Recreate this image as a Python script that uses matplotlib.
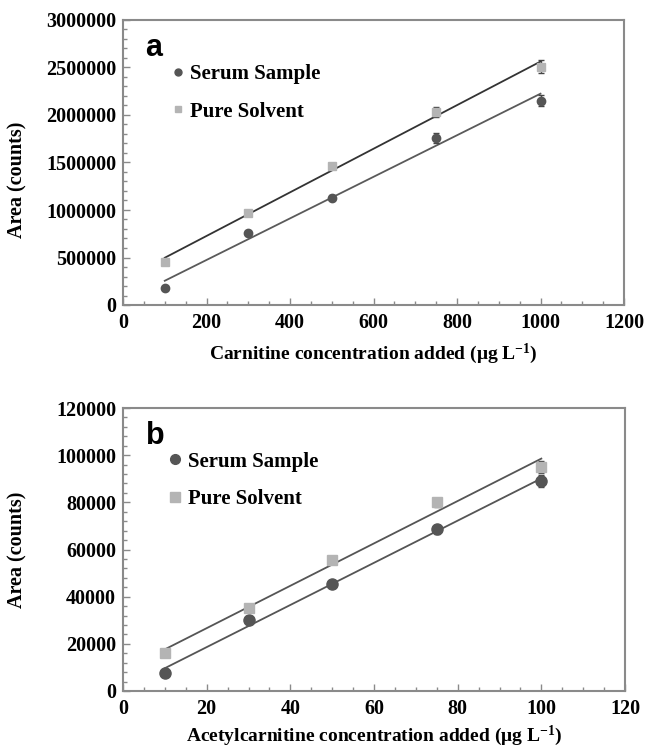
import numpy as np
import matplotlib
matplotlib.use("Agg")
import matplotlib.pyplot as plt
from matplotlib.ticker import MultipleLocator, FormatStrFormatter
from matplotlib.lines import Line2D

# ---- data ----
xa = [100, 300, 500, 750, 1000]
serum_a = [180000, 760000, 1130000, 1760000, 2150000]
serum_a_err = [15000, 20000, 25000, 50000, 60000]
solvent_a = [450000, 970000, 1460000, 2030000, 2510000]
solvent_a_err = [15000, 20000, 30000, 50000, 70000]

xb = [10, 30, 50, 75, 100]
serum_b = [7500, 30000, 45500, 68500, 89000]
serum_b_err = [800, 1000, 1000, 2000, 2500]
solvent_b = [16000, 35000, 55500, 80000, 95000]
solvent_b_err = [800, 1000, 1000, 2000, 2500]

xticks_a = [0, 200, 400, 600, 800, 1000, 1200]
yticks_a = [0, 500000, 1000000, 1500000, 2000000, 2500000, 3000000]
xticks_b = [0, 20, 40, 60, 80, 100, 120]
yticks_b = [0, 20000, 40000, 60000, 80000, 100000, 120000]

SERIF = "Liberation Serif"
SANS = "Liberation Sans"
plt.rcParams["mathtext.fontset"] = "custom"
plt.rcParams["mathtext.rm"] = "Liberation Serif:bold"
plt.rcParams["mathtext.default"] = "rm"

c_serum = "#555555"
c_solv = "#b4b4b4"
spine_c = "#8a8a8a"

fig = plt.figure(figsize=(6.46, 7.47), dpi=100)


def panel(rect, x, ys, yse, yv, yve, xt, yt, xminor, yminor, letter, xlabel,
          line_solv, line_serum, ms_c, ms_s, leg_anchor, leg_ms, xlpad, ylab_xy):
    ax = fig.add_axes(rect)
    xs = np.array(x, dtype=float)
    for yy, col in ((yv, line_solv), (ys, line_serum)):
        p = np.polyfit(xs, np.array(yy, dtype=float), 1)
        ax.plot([xs[0], xs[-1]], np.polyval(p, [xs[0], xs[-1]]), color=col, lw=1.3, zorder=2)
    ax.errorbar(x, ys, yerr=yse, fmt="o", color=c_serum, ms=ms_c, mec=c_serum,
                ecolor="#444444", elinewidth=1, capsize=2.5, zorder=3)
    ax.errorbar(x, yv, yerr=yve, fmt="s", color=c_solv, ms=ms_s, mec=c_solv,
                ecolor="#444444", elinewidth=1, capsize=2.5, zorder=3)
    ax.set_xlim(xt[0], xt[-1])
    ax.set_ylim(yt[0], yt[-1])
    ax.set_xticks(xt)
    ax.set_yticks(yt)
    ax.yaxis.set_major_formatter(FormatStrFormatter("%d"))
    ax.xaxis.set_major_formatter(FormatStrFormatter("%d"))
    ax.xaxis.set_minor_locator(MultipleLocator(xminor))
    ax.yaxis.set_minor_locator(MultipleLocator(yminor))
    ax.tick_params(which="both", direction="in", color=spine_c, width=1)
    ax.tick_params(which="major", length=5)
    ax.tick_params(axis="y", which="major", pad=5)
    ax.tick_params(axis="x", which="major", pad=6)
    ax.tick_params(which="minor", length=3)
    for lab in ax.get_xticklabels() + ax.get_yticklabels():
        lab.set_fontfamily(SERIF)
        lab.set_fontweight("bold")
        lab.set_fontsize(14.5)
    for s in ax.spines.values():
        s.set_color(spine_c)
        s.set_linewidth(1.5)
    ax.set_ylabel("Area (counts)", fontfamily=SERIF, fontweight="bold", fontsize=14.5)
    ax.yaxis.set_label_coords(*ylab_xy)
    ax.set_xlabel(xlabel, fontfamily=SERIF, fontweight="bold", fontsize=14, labelpad=xlpad)
    ax.text(0.045, 0.955, letter, transform=ax.transAxes, fontfamily=SANS, fontweight="bold",
            fontsize=22, va="top", ha="left")
    handles = [Line2D([], [], ls="none", marker="o", color=c_serum, ms=leg_ms),
               Line2D([], [], ls="none", marker="s", color=c_solv, ms=leg_ms)]
    ax.legend(handles, ["Serum Sample", "Pure Solvent"], loc="upper left",
              bbox_to_anchor=leg_anchor, frameon=False,
              handlelength=0.6, handletextpad=0.3, labelspacing=0.85, borderaxespad=0,
              prop={"family": SERIF, "weight": "bold", "size": 15})
    return ax


panel([123 / 646, 1 - 305 / 747, 501 / 646, 285 / 747], xa, serum_a, serum_a_err,
      solvent_a, solvent_a_err, xticks_a, yticks_a, 50, 100000, "a",
      "Carnitine concentration added (\u03bcg L$^{-1}$)",
      "#333333", "#5a5a5a", 6, 6, (0.08, 0.875), 5, 6, (-0.19, 0.44))

panel([123 / 646, 1 - 691 / 747, 502 / 646, 283 / 747], xb, serum_b, serum_b_err,
      solvent_b, solvent_b_err, xticks_b, yticks_b, 5, 4000, "b",
      "Acetylcarnitine concentration added (\u03bcg L$^{-1}$)",
      "#555555", "#555555", 8, 7, (0.075, 0.875), 7, 3, (-0.19, 0.5))

fig.savefig("out.png", dpi=100, facecolor="white")
